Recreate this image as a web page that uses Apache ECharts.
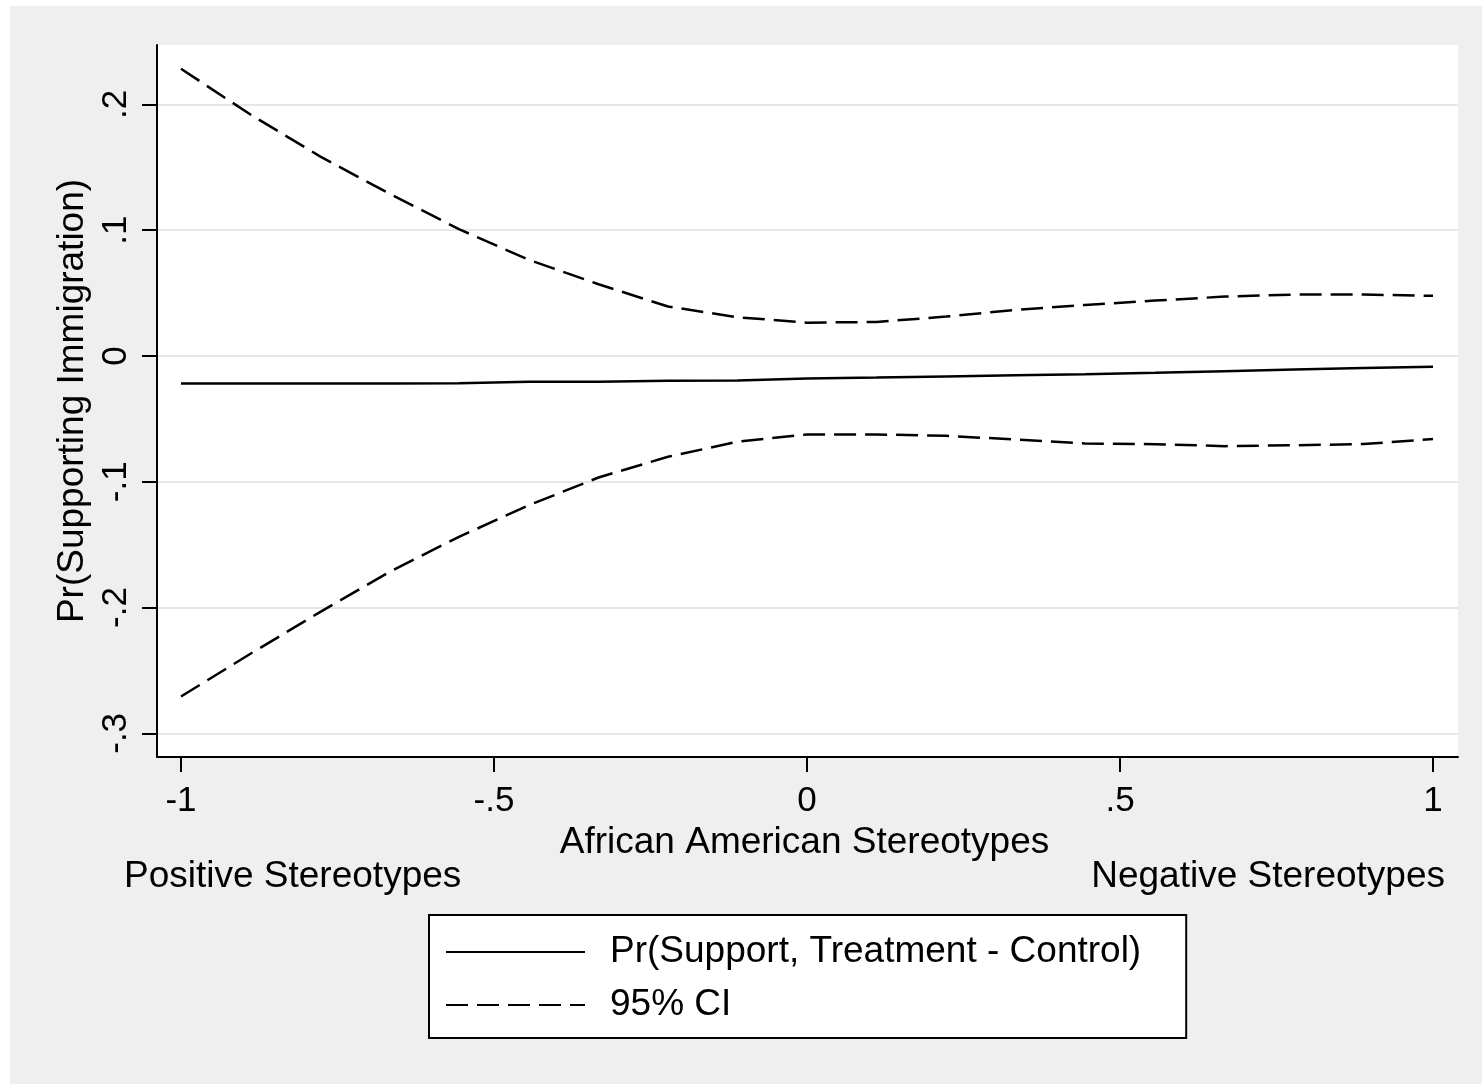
<!DOCTYPE html>
<html>
<head>
<meta charset="utf-8">
<script src="https://cdn.jsdelivr.net/npm/echarts@6/dist/echarts.min.js"></script>
<style>
  html, body { margin: 0; padding: 0; background: #ffffff; }
  #wrap { position: relative; width: 1482px; height: 1084px; background: #ffffff; }
  #chart { position: absolute; left: 10px; top: 6px; width: 1472px; height: 1078px; }
</style>
</head>
<body>
<div id="wrap"><div id="chart"></div></div>
<script>
// Data
const xValues = [-1, -0.889, -0.778, -0.667, -0.556, -0.444, -0.333, -0.222, -0.111, 0,
                 0.111, 0.222, 0.333, 0.444, 0.556, 0.667, 0.778, 0.889, 1];
const estimate = [-0.0218, -0.0218, -0.0218, -0.0218, -0.0217, -0.0205, -0.0204, -0.0197, -0.0195, -0.0180,
                  -0.0172, -0.0163, -0.0154, -0.0146, -0.0134, -0.0121, -0.0107, -0.0096, -0.0085];
const upperCI = [0.2283, 0.1919, 0.1587, 0.1290, 0.1008, 0.0764, 0.0570, 0.0393, 0.0308, 0.0265,
                 0.0270, 0.0313, 0.0366, 0.0406, 0.0440, 0.0472, 0.0488, 0.0488, 0.0478];
const lowerCI = [-0.2707, -0.2367, -0.2036, -0.1717, -0.1438, -0.1186, -0.0966, -0.0801, -0.0682, -0.0624,
                 -0.0624, -0.0635, -0.0664, -0.0696, -0.0701, -0.0717, -0.0710, -0.0700, -0.0661];
const xTicks = [-1, -0.5, 0, 0.5, 1];
const yTicks = [-0.3, -0.2, -0.1, 0, 0.1, 0.2];
const seriesNames = ['Pr(Support, Treatment - Control)', '95% CI'];
const xTitle = 'African American Stereotypes';
const yTitle = 'Pr(Supporting Immigration)';
const leftNote = 'Positive Stereotypes';
const rightNote = 'Negative Stereotypes';

const pair = (ys) => xValues.map((x, i) => [x, ys[i]]);
const fmt = (v) => {
  if (Math.abs(v) < 1e-9) return '0';
  let s = String(Math.round(v * 1000) / 1000);
  return s.replace(/^(-?)0\./, '$1.');
};
const FONT = '"Liberation Sans", Arial, Helvetica, sans-serif';

const chart = echarts.init(document.getElementById('chart'), null, { renderer: 'canvas' });
const dashStyle = { color: '#000', width: 2.5, type: [22, 9] };

chart.setOption({
  backgroundColor: '#efefef',
  animation: false,
  textStyle: { fontFamily: FONT, color: '#000' },
  grid: {
    left: 147, top: 39, right: 24, bottom: 327,
    show: true, backgroundColor: '#ffffff', borderWidth: 0
  },
  xAxis: {
    type: 'value',
    min: -1.0383, max: 1.0399,
    name: xTitle,
    nameLocation: 'middle',
    nameGap: 64,
    nameTextStyle: { fontSize: 37, color: '#000', fontFamily: FONT, padding: [0, 6, 0, 0] },
    axisLine: { show: true, onZero: false, lineStyle: { color: '#000', width: 2 } },
    axisTick: { show: true, length: 15, lineStyle: { color: '#000', width: 2 }, customValues: xTicks },
    axisLabel: { fontSize: 35, color: '#000', fontFamily: FONT, margin: 27, customValues: xTicks, formatter: fmt },
    splitLine: { show: false }
  },
  yAxis: {
    type: 'value',
    min: -0.3188, max: 0.2472,
    name: yTitle,
    nameLocation: 'middle',
    nameGap: 62,
    nameRotate: 90,
    nameTextStyle: { fontSize: 37, color: '#000', fontFamily: FONT },
    axisLine: { show: true, onZero: false, lineStyle: { color: '#000', width: 2 } },
    axisTick: { show: true, length: 15, lineStyle: { color: '#000', width: 2 }, customValues: yTicks },
    axisLabel: { fontSize: 35, color: '#000', fontFamily: FONT, margin: 23, rotate: 90, customValues: yTicks, formatter: fmt },
    splitLine: { show: true, lineStyle: { color: '#e6e6e6', width: 2 } }
  },
  legend: {
    data: seriesNames,
    orient: 'vertical',
    left: 419, top: 909,
    padding: [17, 45, 13, 16],
    itemWidth: 139, itemHeight: 20, itemGap: 13,
    itemStyle: { opacity: 0 },
    backgroundColor: '#ffffff',
    borderColor: '#000', borderWidth: 2,
    borderRadius: 0,
    textStyle: { fontSize: 37, color: '#000', fontFamily: FONT, lineHeight: 40, padding: [0, 0, 0, 20] },
    selectedMode: false
  },
  graphic: [
    { type: 'text', left: 114, top: 852, style: { text: leftNote, font: '37px ' + FONT, fill: '#000' } },
    { type: 'text', right: 37, top: 852, style: { text: rightNote, font: '37px ' + FONT, fill: '#000' } }
  ],
  series: [
    {
      name: seriesNames[0], type: 'line', data: pair(estimate),
      symbol: 'none', lineStyle: { color: '#000', width: 2.5, type: 'solid' },
      itemStyle: { color: '#000' }, z: 3
    },
    {
      name: seriesNames[1], type: 'line', data: pair(upperCI),
      symbol: 'none', lineStyle: dashStyle, itemStyle: { color: '#000' }, z: 3
    },
    {
      name: seriesNames[1], type: 'line', data: pair(lowerCI),
      symbol: 'none', lineStyle: dashStyle, itemStyle: { color: '#000' }, z: 3
    }
  ]
});
</script>
</body>
</html>
